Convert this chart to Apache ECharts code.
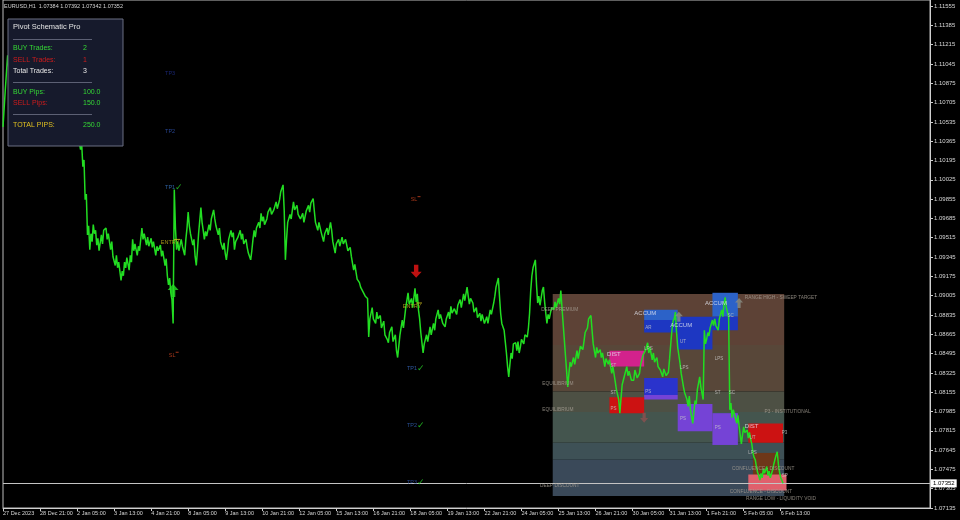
<!DOCTYPE html>
<html><head><meta charset="utf-8">
<script src="https://cdn.jsdelivr.net/npm/echarts@6/dist/echarts.min.js"></script>
<style>html,body{margin:0;padding:0;background:#000}#c{width:960px;height:520px}</style>
</head><body><div id="c"></div>
<script>
// ---------------- DATA ----------------
const symbolTitle = 'EURUSD,H1';
const quoteOHLC = ['1.07384', '1.07392', '1.07342', '1.07352'];
const lastPrice = 1.07352;
const totalBars = 802;
const barsPerLabel = 32;
const tickLabels = ['27 Dec 2023','28 Dec 21:00','2 Jan 05:00','3 Jan 13:00','4 Jan 21:00','8 Jan 05:00','9 Jan 13:00','10 Jan 21:00','12 Jan 05:00','15 Jan 13:00','16 Jan 21:00','18 Jan 05:00','19 Jan 13:00','22 Jan 21:00','24 Jan 05:00','25 Jan 13:00','26 Jan 21:00','30 Jan 05:00','31 Jan 13:00','1 Feb 21:00','5 Feb 05:00','6 Feb 13:00'];
const axisBase = 107135;      // lowest price tick in points
const axisTop = 4473;         // top of chart in points above base
const axisStep = 170;         // tick step in points

// price path: [bar index, price]
const pricePath = [
[0,1.1049],[2,1.1082],[4,1.1112],[6,1.1090],[10,1.1099],[16,1.1073],[22,1.1090],[30,1.1064],[38,1.1082],[46,1.1055],[54,1.1064],[60,1.1038],[64,1.1046],
[67,1.1029],[68,1.1034],[69,1.1014],[70,1.1020],[71,1.0985],[72,1.0990],[73,1.0954],[74,1.0962],[75,1.0941],[76,1.0955],[77,1.0948],[78,1.0963],[79,1.0955],[80,1.0958],[81,1.0945],[82,1.0951],[83,1.0940],[85,1.0954],[86,1.0946],[87,1.0958],[89,1.0960],[90,1.0950],[91,1.0955],[93,1.0941],[94,1.0948],[95,1.0935],[97,1.0927],[98,1.0936],[99,1.0925],[100,1.0930],
[102,1.0914],[103,1.0922],[104,1.0918],[105,1.0930],[106,1.0925],[107,1.0934],[109,1.0923],[110,1.0936],[111,1.0930],[112,1.0950],[113,1.0940],[114,1.0946],[116,1.0936],[117,1.0944],[118,1.0940],[120,1.0960],[121,1.0950],[122,1.0955],[124,1.0945],[125,1.0952],[126,1.0944],[128,1.0951],[129,1.0943],[130,1.0948],[132,1.0936],[133,1.0944],[134,1.0940],[136,1.0945],[137,1.0935],[138,1.0940],[140,1.0927],[141,1.0933],[142,1.0918],[143,1.0910],[144,1.0916],[145,1.0903],[146,1.0897],[147,1.0876],[148,1.0994],[149,1.0960],
[150,1.0941],[151,1.0948],[152,1.0940],[154,1.0950],[155,1.0944],[156,1.0940],[157,1.0936],[158,1.0950],[159,1.0960],[160,1.0974],[161,1.0962],[162,1.0955],[164,1.0945],[165,1.0950],[166,1.0935],[167,1.0927],[168,1.0940],[169,1.0955],[171,1.0978],[172,1.0965],[173,1.0958],[174,1.0950],[175,1.0957],[176,1.0953],[178,1.0963],[179,1.0958],[180,1.0968],[182,1.0976],[183,1.0968],[184,1.0962],[186,1.0954],[187,1.0960],[188,1.0948],[190,1.0941],[191,1.0947],[192,1.0938],[193,1.0932],[194,1.0940],[195,1.0950],[197,1.0958],[198,1.0952],[199,1.0956],
[200,1.0941],[201,1.0948],[203,1.0952],[205,1.0958],[206,1.0950],[207,1.0955],[208,1.0946],[210,1.0950],[211,1.0943],[212,1.0938],[214,1.0932],[215,1.0940],[216,1.0950],[217,1.0958],[218,1.0952],[219,1.0960],[221,1.0965],[222,1.0960],[223,1.0973],[224,1.0966],[225,1.0970],[226,1.0963],[228,1.0968],[229,1.0974],[231,1.0978],[232,1.0972],[234,1.0976],[236,1.0983],[237,1.0977],[239,1.0985],[240,1.0992],[242,1.0998],[243,1.0975],[244,1.0932],[245,1.0950],[246,1.0965],[248,1.0972],[249,1.0968],
[251,1.0983],[252,1.0976],[254,1.0980],[255,1.0972],[257,1.0968],[259,1.0973],[260,1.0965],[262,1.0975],[264,1.0980],[265,1.0974],[266,1.0982],[268,1.0986],[269,1.0975],[270,1.0965],[272,1.0958],[273,1.0965],[275,1.0956],[277,1.0948],[278,1.0955],[280,1.0960],[281,1.0954],[283,1.0965],[284,1.0958],[285,1.0948],[287,1.0938],[288,1.0946],[290,1.0950],[291,1.0944],[293,1.0952],[294,1.0946],[296,1.0950],[298,1.0940],
[300,1.0943],[301,1.0935],[303,1.0923],[304,1.0928],[306,1.0915],[308,1.0912],[309,1.0908],[311,1.0904],[313,1.0900],[315,1.0898],[316,1.0864],[317,1.0880],[319,1.0890],[320,1.0880],[322,1.0876],[323,1.0886],[324,1.0880],[326,1.0883],[327,1.0872],[329,1.0878],[330,1.0866],[332,1.0862],[333,1.0859],[334,1.0868],[336,1.0873],[337,1.0860],[339,1.0866],[340,1.0852],[341,1.0846],[342,1.0856],[343,1.0866],[345,1.0879],[346,1.0872],[348,1.0890],
[350,1.0903],[351,1.0893],[353,1.0898],[354,1.0890],[356,1.0907],[357,1.0895],[358,1.0902],[359,1.0888],[360,1.0880],[361,1.0868],[363,1.0850],[364,1.0858],[366,1.0866],[367,1.0860],[369,1.0873],[370,1.0866],[372,1.0876],[373,1.0870],[374,1.0880],[376,1.0888],[377,1.0880],[378,1.0884],[380,1.0876],[382,1.0873],[383,1.0880],[385,1.0886],[386,1.0880],[387,1.0891],[388,1.0885],[390,1.0889],[392,1.0884],[393,1.0892],[395,1.0897],[396,1.0890],[398,1.0902],[399,1.0896],
[401,1.0908],[402,1.0900],[403,1.0893],[404,1.0898],[406,1.0894],[407,1.0886],[409,1.0890],[410,1.0881],[412,1.0885],[413,1.0878],[414,1.0884],[416,1.0876],[418,1.0882],[419,1.0876],[421,1.0888],[422,1.0884],[424,1.0894],[425,1.0900],[426,1.0908],[428,1.0916],[429,1.0900],[430,1.0885],[431,1.0876],[433,1.0870],[434,1.0860],[435,1.0850],[436,1.0838],[437,1.0829],[438,1.0840],[439,1.0850],[440,1.0845],[441,1.0858],[443,1.0859],[444,1.0852],[445,1.0860],[446,1.0850],[447,1.0855],[448,1.0862],
[450,1.0858],[451,1.0866],[453,1.0864],[454,1.0872],[455,1.0885],[456,1.0905],[457,1.0918],[458,1.0925],[460,1.0932],[461,1.0910],[462,1.0894],[463,1.0900],[464,1.0892],[466,1.0905],[467,1.0908],[468,1.0895],[469,1.0885],[470,1.0876],[471,1.0884],[472,1.0880],[474,1.0890],[476,1.0888],[477,1.0895],[478,1.0890],[480,1.0898],[481,1.0893],[482,1.0905],[483,1.0890],[484,1.0876],[485,1.0862],[486,1.0848],[487,1.0834],[488,1.0820],[489,1.0832],[490,1.0842],[491,1.0838],[493,1.0846],[494,1.0840],[496,1.0852],[497,1.0845],[499,1.0856],
[501,1.0853],[502,1.0860],[503,1.0868],[505,1.0872],[506,1.0880],[508,1.0883],[509,1.0870],[510,1.0858],[512,1.0846],[513,1.0855],[514,1.0850],[516,1.0853],[517,1.0846],[518,1.0850],[520,1.0838],[521,1.0845],[523,1.0840],[524,1.0844],[526,1.0832],[527,1.0838],[529,1.0825],[530,1.0818],[532,1.0809],[533,1.0797],[534,1.0810],[535,1.0822],[537,1.0830],[539,1.0838],[540,1.0830],[541,1.0834],[543,1.0826],[545,1.0826],[546,1.0835],[548,1.0828],
[550,1.0832],[551,1.0840],[553,1.0848],[555,1.0852],[557,1.0859],[558,1.0850],[559,1.0855],[561,1.0844],[562,1.0850],[563,1.0842],[565,1.0846],[566,1.0838],[568,1.0835],[570,1.0829],[571,1.0836],[573,1.0830],[575,1.0833],[576,1.0845],[577,1.0858],[578,1.0870],[579,1.0878],[580,1.0880],[581,1.0886],[582,1.0868],[583,1.0855],[584,1.0848],[585,1.0841],[586,1.0832],[587,1.0826],[588,1.0820],[589,1.0815],[590,1.0812],[591,1.0809],[592,1.0803],[593,1.0812],[594,1.0800],[596,1.0788],[597,1.0798],[598,1.0808],[599,1.0805],
[600,1.0818],[602,1.0829],[603,1.0820],[605,1.0809],[606,1.0870],[607,1.0858],[608,1.0862],[609,1.0868],[610,1.0865],[611,1.0872],[613,1.0879],[614,1.0874],[615,1.0880],[616,1.0874],[618,1.0870],[619,1.0880],[620,1.0884],[621,1.0888],[622,1.0882],[623,1.0893],[624,1.0899],[625,1.0890],[626,1.0886],[627,1.0882],[628,1.0800],[629,1.0806],[630,1.0793],[631,1.0800],[632,1.0796],[633,1.0792],[634,1.0788],[635,1.0795],[636,1.0786],[637,1.0778],[638,1.0770],[639,1.0778],[640,1.0785],[641,1.0780],[643,1.0782],[644,1.0775],[645,1.0780],[646,1.0774],[647,1.0770],[648,1.0762],[649,1.0758],
[650,1.0756],[651,1.0750],[652,1.0745],[653,1.0742],[654,1.0738],[655,1.0744],[656,1.0740],[657,1.0748],[658,1.0744],[660,1.0750],[661,1.0742],[662,1.0746],[663,1.0740],[665,1.0747],[666,1.0752],[667,1.0756],[668,1.0760],[669,1.0763],[670,1.0752],[671,1.0745],[672,1.0740],[673,1.0738],[674,1.07352]
];

// trades (buy, sell)
const tradeBar   = [147, 356];
const tradeArrowBar = [147, 357];
const tradeSide  = ['buy', 'sell'];
const tradeArrow = [1.0905, 1.0922];
const tradeEntry = [1.0950, 1.0894];
const tradeSL    = [1.0848, 1.0985];
const tradeTP1   = [1.0996, 1.0836];
const tradeTP2   = [1.1045, 1.0786];
const tradeTP3   = [1.1096, 1.0736];
const tradeTPHit = [[true,false,false],[true,true,true]];

// stats panel
const panelTitle = 'Pivot Schematic Pro';
const statNames  = ['BUY Trades:', 'SELL Trades:', 'Total Trades:', 'BUY Pips:', 'SELL Pips:', 'TOTAL PIPS:'];
const statValues = ['2', '1', '3', '100.0', '150.0', '250.0'];

// schematic range
const rangeStart = 475, rangeEnd = 675;
const bandLevels = [1.0902, 1.0857, 1.0816, 1.0798, 1.0771, 1.0756, 1.0724];

// zones
const zoneStart = [554, 554, 583, 613, 613, 524, 554, 554, 524, 583, 613, 644, 648, 644];
const zoneEnd   = [583, 583, 613, 635, 635, 554, 583, 583, 554, 613, 635, 674, 671, 677];
const zoneHigh  = [1.0888, 1.0879, 1.0882, 1.0903, 1.0882, 1.0852, 1.0828, 1.0813, 1.0811, 1.0805, 1.0797, 1.0788, 1.0762, 1.0743];
const zoneLow   = [1.0879, 1.0868, 1.0853, 1.0882, 1.0870, 1.0838, 1.0813, 1.0809, 1.0797, 1.0781, 1.0769, 1.0771, 1.0741, 1.0729];
const zoneKind  = ['accHi','accLo','accLo','accHi','accLo','distPink','blue','purple','red','purple','purple','red','brown','salmon'];

const zoneTitle    = ['ACCUM', 'ACCUM', 'ACCUM', 'DIST', 'DIST'];
const zoneTitleBar = [555, 586, 616, 522, 641];
const zoneTitlePx  = [1.0885, 1.0874, 1.0894, 1.0849, 1.0785];

const noteText = ['RANGE HIGH - SWEEP TARGET','DEEP PREMIUM','EQUILIBRIUM','EQUILIBRIUM','P3 - INSTITUTIONAL','DEEP DISCOUNT','RANGE LOW - LIQUIDITY VOID','CONFLUENCE - DISCOUNT','CONFLUENCE - DISCOUNT'];
const noteBar  = [641, 465, 466, 466, 658, 464, 642, 630, 628];
const notePx   = [1.0899, 1.0888, 1.0823, 1.0800, 1.0798, 1.0733, 1.0722, 1.0748, 1.0728];

const wyText = ['ST','ST','PS','LPS','AR','PS','UT','LPS','PS','LPS','ST','PS','SC','SC','UT','LPS','P3','SP'];
const wyBar  = [525,525,525,554,555,555,585,585,585,615,615,615,626,627,645,644,673,673];
const wyPx   = [1.0839,1.0815,1.0801,1.0854,1.0872,1.0816,1.0860,1.0837,1.0792,1.0845,1.0815,1.0784,1.0883,1.0815,1.0775,1.0762,1.0780,1.0742];

const schemArrowBar = [584, 636, 554];
const schemArrowPx  = [1.0882, 1.0894, 1.0793];
const schemArrowDir = ['up', 'up', 'down'];

// ---------------- BUILD ----------------
const FONT = "'Liberation Sans', Arial, sans-serif";
const toV = p => Math.round(p * 1e5) - axisBase;
const cats = Array.from({length: totalBars}, (_, i) =>
  (i % barsPerLabel === 0 && tickLabels[i / barsPerLabel]) ? tickLabels[i / barsPerLabel] : '');
const labelInt = (i, v) => v !== '';

const UP = 'path://M5,0 L10,6 L7,6 L7,13 L3,13 L3,6 L0,6 Z';
const DOWN = 'path://M3,0 L7,0 L7,7 L10,7 L5,13 L0,7 L3,7 Z';

const priceData = pricePath.map(d => [d[0], toV(d[1])]);

const bandColors = ['#5d4236', '#584739', '#4d5044', '#44554e', '#3e5156', '#3a4959'];
const bandAreas = [];
for (let i = 0; i < bandLevels.length - 1; i++) {
  bandAreas.push([{coord: [rangeStart, toV(bandLevels[i])], itemStyle: {color: bandColors[i]}},
                  {coord: [rangeEnd, toV(bandLevels[i + 1])]}]);
}
const kindColor = {accHi:'#2c62c8', accLo:'#1d37c2', distPink:'#d3228c', blue:'#2a33cc', purple:'#7543d6', red:'#cc1212', brown:'#6e3719', salmon:'#e0606c'};
const zoneAreas = zoneStart.map((s, i) => [
  {coord: [s, toV(zoneHigh[i])], itemStyle: {color: kindColor[zoneKind[i]]}},
  {coord: [zoneEnd[i], toV(zoneLow[i])]}]);

function txt(x, p, text, color, size, align, offset) {
  return {
    value: [x, toV(p)],
    label: {show: true, position: 'inside', formatter: text, color: color, fontSize: size,
            fontFamily: FONT, align: align || 'center', verticalAlign: 'middle', offset: offset || [0, 0]}
  };
}

const tradeLabels = [];
const tradeMarks = [];
const tpCols = [['#3a78c8', '#2f55b5', '#1f2f8f'], ['#3a6cc4', '#3262b8', '#2f55b0']];
tradeBar.forEach((b, t) => {
  const tps = [tradeTP1[t], tradeTP2[t], tradeTP3[t]];
  tps.forEach((p, k) => {
    tradeLabels.push(txt(b, p, 'TP' + (k + 1), tpCols[t][k], 5.5, 'center', [-3, 0]));
    if (tradeTPHit[t][k]) tradeLabels.push(txt(b, p, '\u2713', '#28d828', 9, 'center', [6, 0]));
  });
  tradeLabels.push(txt(b, tradeEntry[t], 'ENTRY', '#c9b81e', 5.5, 'center', [-3, 3]));
  tradeLabels.push(txt(b, tradeSL[t], 'SL', '#cc4420', 5.5, 'center', [-1, 0]));
  tradeMarks.push({value: [b, toV(tradeEntry[t])], symbol: 'rect', symbolSize: [6, 1], symbolOffset: [4, 0], itemStyle: {color: '#e0d020'}});
  tradeMarks.push({value: [b, toV(tradeSL[t])], symbol: 'rect', symbolSize: [3, 1], symbolOffset: [4, -3], itemStyle: {color: '#cc4420'}});
  tradeMarks.push({value: [tradeArrowBar[t], toV(tradeArrow[t])], symbol: tradeSide[t] === 'buy' ? UP : DOWN,
                   symbolSize: [11, 13], itemStyle: {color: tradeSide[t] === 'buy' ? '#25e025' : '#ee1515'}});
});
schemArrowBar.forEach((b, i) => {
  tradeMarks.push({value: [b, toV(schemArrowPx[i])], symbol: schemArrowDir[i] === 'up' ? UP : DOWN,
                   symbolSize: [8, 10], itemStyle: {color: schemArrowDir[i] === 'up' ? '#8a8f86' : '#8c5050'}});
});

const schemLabels = [];
zoneTitle.forEach((t, i) => schemLabels.push(txt(zoneTitleBar[i], zoneTitlePx[i], t, '#e4e6f0', 6,
  t === 'DIST' ? 'left' : 'center')));
noteText.forEach((t, i) => schemLabels.push(txt(noteBar[i], notePx[i], t, '#a8a096', 4.8, 'left')));
wyText.forEach((t, i) => schemLabels.push(txt(wyBar[i], wyPx[i], t, '#c9c9c9', 4.5, 'left')));

const hiddenSym = {symbol: 'rect', symbolSize: 1, itemStyle: {color: 'rgba(0,0,0,0)'}};

const panelItems = [
  {type: 'rect', shape: {x: 8, y: 19, width: 115, height: 127}, style: {fill: '#161a2c', stroke: '#6a6f82', lineWidth: 1}},
  {type: 'text', style: {text: panelTitle, x: 13, y: 27, fill: '#e2e2e2', fontSize: 7.5, fontFamily: FONT, verticalAlign: 'middle'}},
  {type: 'line', shape: {x1: 13, y1: 39.5, x2: 92, y2: 39.5}, style: {stroke: '#5c6074', lineWidth: 1}},
  {type: 'line', shape: {x1: 13, y1: 82.5, x2: 92, y2: 82.5}, style: {stroke: '#5c6074', lineWidth: 1}},
  {type: 'line', shape: {x1: 13, y1: 114.5, x2: 92, y2: 114.5}, style: {stroke: '#5c6074', lineWidth: 1}}
];
const statY = [48, 60, 71, 92, 103, 125];
const statNameCol = ['#35d835', '#d01c1c', '#e6e6e6', '#35d835', '#d01c1c', '#e0c020'];
const statValCol  = ['#35d835', '#d01c1c', '#e6e6e6', '#35d835', '#35d835', '#35d835'];
statNames.forEach((n, i) => {
  panelItems.push({type: 'text', style: {text: n, x: 13, y: statY[i], fill: statNameCol[i], fontSize: 7, fontFamily: FONT, verticalAlign: 'middle'}});
  panelItems.push({type: 'text', style: {text: statValues[i], x: 83, y: statY[i], fill: statValCol[i], fontSize: 7, fontFamily: FONT, verticalAlign: 'middle'}});
});
panelItems.forEach(it => it.z = 100);

const option = {
  backgroundColor: '#000',
  animation: false,
  grid: {left: 2, right: 30, top: 0, bottom: 12, show: true, borderColor: '#bdbdbd', borderWidth: 1, backgroundColor: '#000'},
  xAxis: {
    type: 'category', data: cats, boundaryGap: false,
    axisLine: {lineStyle: {color: '#cfcfcf'}},
    axisTick: {show: true, interval: labelInt, length: 3, lineStyle: {color: '#cfcfcf'}},
    axisLabel: {interval: labelInt, color: '#d6d6d6', fontSize: 5.5, fontFamily: FONT, align: 'left', margin: 2},
    splitLine: {show: false}
  },
  yAxis: {
    type: 'value', position: 'right', min: 0, max: axisTop, interval: axisStep,
    axisLine: {show: true, lineStyle: {color: '#cfcfcf'}},
    axisTick: {show: true, length: 3, lineStyle: {color: '#cfcfcf'}},
    axisLabel: {color: '#d6d6d6', fontSize: 6, fontFamily: FONT, margin: 4, showMaxLabel: false,
                formatter: v => ((v + axisBase) / 1e5).toFixed(5)},
    splitLine: {show: false}
  },
  graphic: [
    {type: 'text', z: 100, style: {text: symbolTitle + '  ' + quoteOHLC.join(' '), x: 4, y: 6, fill: '#d4d4d4', fontSize: 5.5, fontFamily: FONT, verticalAlign: 'middle'}},
    {type: 'group', z: 100, children: panelItems}
  ],
  series: [
    {type: 'scatter', name: 'bands', z: 1, data: [], silent: true,
     markArea: {silent: true, data: bandAreas}},
    {type: 'scatter', name: 'zones', z: 2, data: [], silent: true,
     markArea: {silent: true, data: zoneAreas}},
    {type: 'line', name: 'EURUSD', z: 5, data: priceData, showSymbol: false, silent: true,
     lineStyle: {color: '#22dd22', width: 1.5}, itemStyle: {color: '#22dd22'},
     markLine: {silent: true, symbol: 'none', animation: false,
       lineStyle: {color: '#c4c4c4', width: 1, type: 'solid'},
       label: {show: true, position: 'end', formatter: lastPrice.toFixed(5), color: '#000', backgroundColor: '#fff',
               fontSize: 6, fontFamily: FONT, padding: [1, 2, 1, 2], distance: 1},
       data: [{yAxis: toV(lastPrice)}]}},
    Object.assign({type: 'scatter', name: 'schemLabels', z: 6, silent: true, data: schemLabels}, hiddenSym),
    {type: 'scatter', name: 'marks', z: 7, silent: true, data: tradeMarks},
    Object.assign({type: 'scatter', name: 'tradeLabels', z: 8, silent: true, data: tradeLabels}, hiddenSym)
  ]
};
const chart = echarts.init(document.getElementById('c'), null, {renderer: 'canvas'});
chart.setOption(option);
</script></body></html>
